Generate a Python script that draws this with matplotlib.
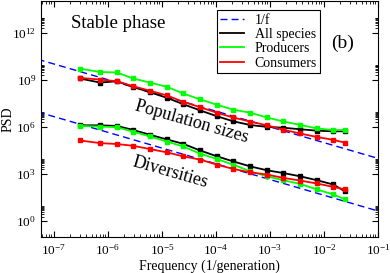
import numpy as np
import matplotlib
matplotlib.use('Agg')
import matplotlib.pyplot as plt
from matplotlib.ticker import FixedLocator, NullFormatter, LogFormatterMathtext

plt.rcParams['font.family'] = ['Liberation Serif', 'DejaVu Serif']
plt.rcParams['mathtext.fontset'] = 'stix'

# frequencies (1/generation)
freq = [3.0e-7, 7.1e-7, 1.47e-6, 2.9e-6, 6.0e-6, 1.24e-5, 2.45e-5, 5.1e-5,
        1.04e-4, 2.07e-4, 4.3e-4, 8.8e-4, 1.74e-3, 3.6e-3, 7.4e-3, 1.47e-2, 2.45e-2]

# log10 PSD, population sizes
pop_all = [9.08, 8.82, 8.90, 8.55, 8.20, 7.85, 7.45, 7.05, 6.68, 6.36, 6.12,
           6.00, 5.95, 5.85, 5.76, 5.72, 5.72]
pop_prod = [9.71, 9.49, 9.46, 9.08, 8.82, 8.55, 8.13, 7.75, 7.41, 7.10, 6.90,
            6.60, 6.35, 6.13, 5.90, 5.80, 5.80]
pop_cons = [9.12, 9.01, 8.90, 8.59, 8.30, 8.00, 7.60, 7.25, 6.90, 6.60, 6.34,
            6.10, 5.83, 5.58, 5.36, 5.18, 5.00]

# log10 PSD, diversities
div_all = [6.10, 6.10, 6.06, 5.81, 5.50, 5.20, 4.93, 4.50, 4.13, 3.81, 3.49,
           3.24, 3.07, 2.86, 2.61, 2.34, 1.91]
div_prod = [6.06, 6.02, 5.98, 5.70, 5.39, 5.07, 4.76, 4.30, 3.96, 3.60, 3.18,
            2.86, 2.61, 2.38, 2.02, 1.71, 1.39]
div_cons = [5.14, 4.97, 4.91, 4.80, 4.59, 4.38, 4.13, 3.92, 3.60, 3.33, 3.11,
            2.97, 2.76, 2.59, 2.40, 2.19, 2.02]

# 1/f reference lines
f_ref = np.array([5e-8, 0.1])
amp_pop = 1.0e3
amp_div = 0.45

H = 273
fig = plt.figure(figsize=(3.9, 2.73), dpi=100)
ax = fig.add_axes([0.105, 0.132, 0.864, 0.864])

ax.plot(f_ref, amp_pop / f_ref, color='#0000ff', lw=1.0, ls=(0, (5, 3)), label='1/f')
ax.plot(f_ref, amp_div / f_ref, color='#0000ff', lw=1.0, ls=(0, (5, 3)))

series = [(pop_all, div_all, 'black', 'All species'),
          (pop_prod, div_prod, '#00ff00', 'Producers'),
          (pop_cons, div_cons, '#ff0000', 'Consumers')]
for pop, div, c, lab in series:
    ax.plot(freq, 10 ** np.array(pop), color=c, lw=1.3, marker='s', ms=3, label=lab)
    ax.plot(freq, 10 ** np.array(div), color=c, lw=1.3, marker='s', ms=3)

ax.set_xscale('log')
ax.set_yscale('log')
ax.set_xlim(5.75e-8, 1e-1)
ax.set_ylim(1e-1, 1e14)

ax.yaxis.set_major_locator(FixedLocator([10.0 ** e for e in range(0, 13, 3)]))
ax.yaxis.set_major_formatter(LogFormatterMathtext())
ax.yaxis.set_minor_locator(FixedLocator([k * 10.0 ** e for e in range(0, 15, 3) for k in range(2, 10)]))
ax.yaxis.set_minor_formatter(NullFormatter())
ax.xaxis.set_major_locator(FixedLocator([10.0 ** e for e in range(-7, 0)]))
ax.xaxis.set_minor_locator(FixedLocator([k * 10.0 ** e for e in range(-8, -1) for k in range(2, 10)]))
ax.xaxis.set_minor_formatter(NullFormatter())

ax.tick_params(which='both', direction='in', top=True, right=True, labelsize=9.5)
ax.tick_params(axis='x', which='major', pad=4)
ax.tick_params(which='major', length=4, width=0.8)
ax.tick_params(which='minor', length=2.2, width=0.6)

ax.set_xlabel('Frequency (1/generation)', fontsize=10, va='center')
ax.xaxis.set_label_coords(0.5, -0.123)
ax.set_ylabel('PSD', fontsize=10, va='center')
ax.yaxis.set_label_coords(-0.099, 0.5)

ax.text(0.09, 0.905, 'Stable phase', transform=ax.transAxes, fontsize=13.5, va='center')
ax.text(0.895, 0.82, '(b)', transform=ax.transAxes, fontsize=14, ha='center', va='center')
ax.annotate('Population sizes', (192, H - 122), xycoords='figure pixels', fontsize=13,
            rotation=-16, ha='center', va='center')
ax.annotate('Diversities', (170, H - 172), xycoords='figure pixels', fontsize=13,
            rotation=-16, ha='center', va='center')

leg = ax.legend(loc='upper left', bbox_to_anchor=(0.521, 0.962), borderaxespad=0,
                fontsize=10, handlelength=1.7, handletextpad=0.8, labelspacing=0.1,
                borderpad=0.25, fancybox=False, framealpha=1)
leg.get_frame().set_edgecolor('black')
leg.get_frame().set_linewidth(0.8)
for h in leg.legend_handles:
    h.set_marker('')

fig.savefig('out.png', dpi=100)
